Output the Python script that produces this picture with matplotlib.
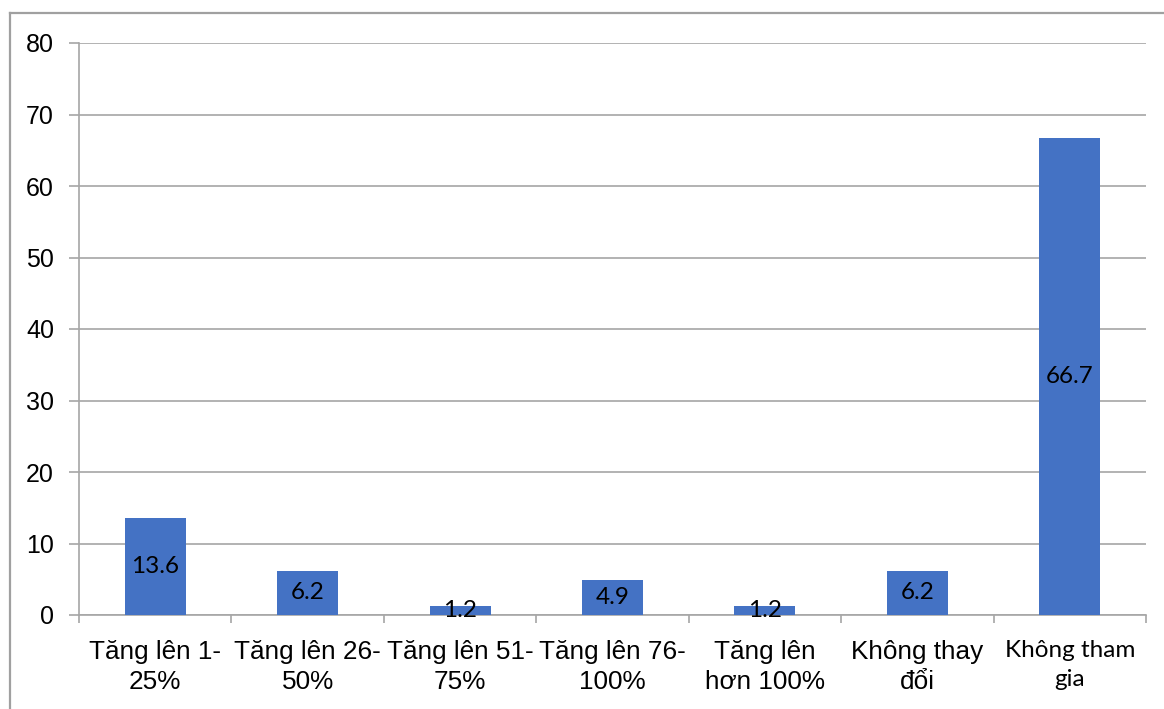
import matplotlib
matplotlib.use("Agg")
import matplotlib.pyplot as plt
from matplotlib.lines import Line2D
import numpy as np

categories = [
    "Tăng lên 1-\n25%",
    "Tăng lên 26-\n50%",
    "Tăng lên 51-\n75%",
    "Tăng lên 76-\n100%",
    "Tăng lên\nhơn 100%",
    "Không thay\nđổi",
    "Không tham\ngia",
]
values = [13.6, 6.2, 1.2, 4.9, 1.2, 6.2, 66.7]
y_ticks = [0, 10, 20, 30, 40, 50, 60, 70, 80]

BAR = "#4472C4"
GRID = "#A6A6A6"
FRAME = "#A0A0A0"

W, H = 1164, 709
fig = plt.figure(figsize=(W / 100, H / 100), dpi=100)
fig.patch.set_facecolor("white")

# outer chart frame (left and top edges)
fig.add_artist(Line2D([10 / W, 10 / W], [0, 1 - 13 / H], transform=fig.transFigure,
                      color=FRAME, lw=1.6))
fig.add_artist(Line2D([10 / W, 1], [1 - 13 / H, 1 - 13 / H], transform=fig.transFigure,
                      color=FRAME, lw=1.6))

left, right, top, bottom = 79, 1146, 43, 615
ax = fig.add_axes([left / W, 1 - bottom / H, (right - left) / W, (bottom - top) / H])

x = np.arange(len(categories))
bars = ax.bar(x, values, width=0.4, color=BAR, zorder=3)

ax.set_xlim(-0.5, len(categories) - 0.5)
ax.set_ylim(0, 80)
ax.set_yticks(y_ticks)
ax.set_yticklabels([str(v) for v in y_ticks], fontfamily="Liberation Sans", fontsize=18)
ax.grid(axis="y", color=GRID, lw=1.2, zorder=0)
ax.tick_params(axis="y", direction="out", length=7, width=1.2, color=GRID, pad=11)

# category labels at centres, tick marks at category boundaries
ax.set_xticks(x)
ax.set_xticklabels(categories, fontfamily="Liberation Sans", fontsize=18.8, linespacing=1.3)
ax.tick_params(axis="x", which="major", length=0, pad=18)
ax.set_xticks(np.arange(len(categories) + 1) - 0.5, minor=True)
ax.tick_params(axis="x", which="minor", direction="out", length=6, width=1.2, color=GRID)
last = ax.get_xticklabels()[-1]
last.set_fontfamily("Lato")
last.set_fontsize(17.5)
last.set_linespacing(1.45)

for s in ["top", "right"]:
    ax.spines[s].set_visible(False)
for s in ["left", "bottom"]:
    ax.spines[s].set_color(GRID)
    ax.spines[s].set_linewidth(1.2)

for xi, v in zip(x, values):
    ax.text(xi, v / 2, f"{v:g}", ha="center", va="center", fontfamily="Lato",
            fontsize=17.5, color="black", zorder=4)

fig.savefig("out.png", dpi=100, facecolor="white")
